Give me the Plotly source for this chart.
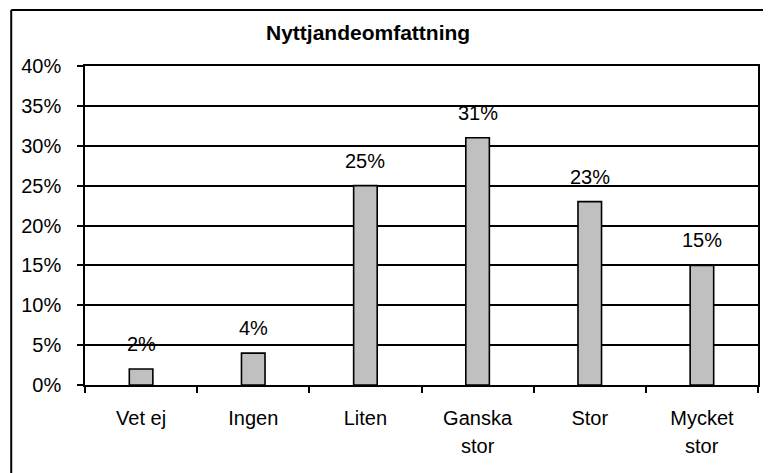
import plotly.graph_objects as go

# Data
categories = ['Vet ej', 'Ingen', 'Liten', 'Ganska', 'Stor', 'Mycket']
second_line = ['', '', '', 'stor', '', 'stor']
shares = [2, 4, 25, 31, 23, 15]
labels = [f'{v}%' for v in shares]
y_ticks = [0, 5, 10, 15, 20, 25, 30, 35, 40]
y_ticktext = [f'{v}%' for v in y_ticks]

font = dict(family='Liberation Sans, Arial, sans-serif', size=20, color='black')

# the page body has an 8px margin, so the figure is 8px smaller than the window
W, H = 763, 465
L, R, T, B = 77, 11, 58, 88
pw, ph = W - L - R, H - T - B

fig = go.Figure()
fig.add_trace(go.Bar(x=categories, y=shares, width=0.21,
                     marker=dict(color='#C0C0C0', line=dict(color='black', width=1.6)),
                     hoverinfo='skip'))

# data labels above the bars
for c, v, t in zip(categories, shares, labels):
    fig.add_annotation(x=c, y=v, text=t, showarrow=False, yanchor='middle',
                       yshift=25, font=font)

# second line of the two-line category labels
for c, t in zip(categories, second_line):
    if t:
        fig.add_annotation(x=c, y=0, text=t, showarrow=False, yanchor='middle',
                           yshift=-61, font=font)

fig.add_annotation(text='<b>Nyttjandeomfattning</b>', xref='paper', yref='paper',
                   x=(361 - L) / pw, y=(T + ph - 24) / ph, showarrow=False,
                   yanchor='middle',
                   font=dict(family='Liberation Sans, Arial, sans-serif', size=21, color='black'))

# outer chart border (left and top edges visible)
bx, by = (3 - L) / pw, (T + ph - 2) / ph
fig.add_shape(type='line', xref='paper', yref='paper',
              x0=bx, x1=bx, y0=by, y1=-0.4, line=dict(color='black', width=2))
fig.add_shape(type='line', xref='paper', yref='paper',
              x0=bx, x1=1.1, y0=by, y1=by, line=dict(color='black', width=2))

fig.update_layout(
    width=W, height=H,
    margin=dict(l=L, r=R, t=T, b=B),
    plot_bgcolor='white', paper_bgcolor='white',
    font=font, showlegend=False,
    xaxis=dict(type='category', range=[-0.5, 5.5], tickson='boundaries',
               ticks='outside', ticklen=6, tickcolor='black', tickwidth=1.5,
               showline=True, linecolor='black', linewidth=1.5, mirror=True,
               showgrid=False, ticklabelstandoff=14, tickfont=font),
    yaxis=dict(range=[0, 40], tickmode='array', tickvals=y_ticks, ticktext=y_ticktext,
               ticks='outside', ticklen=6, tickcolor='black', tickwidth=1.5,
               showline=True, linecolor='black', linewidth=1.5, mirror=True,
               showgrid=True, gridcolor='black', gridwidth=1.5,
               zeroline=False, ticklabelstandoff=12, tickfont=font),
)

fig.write_html("out.html")
